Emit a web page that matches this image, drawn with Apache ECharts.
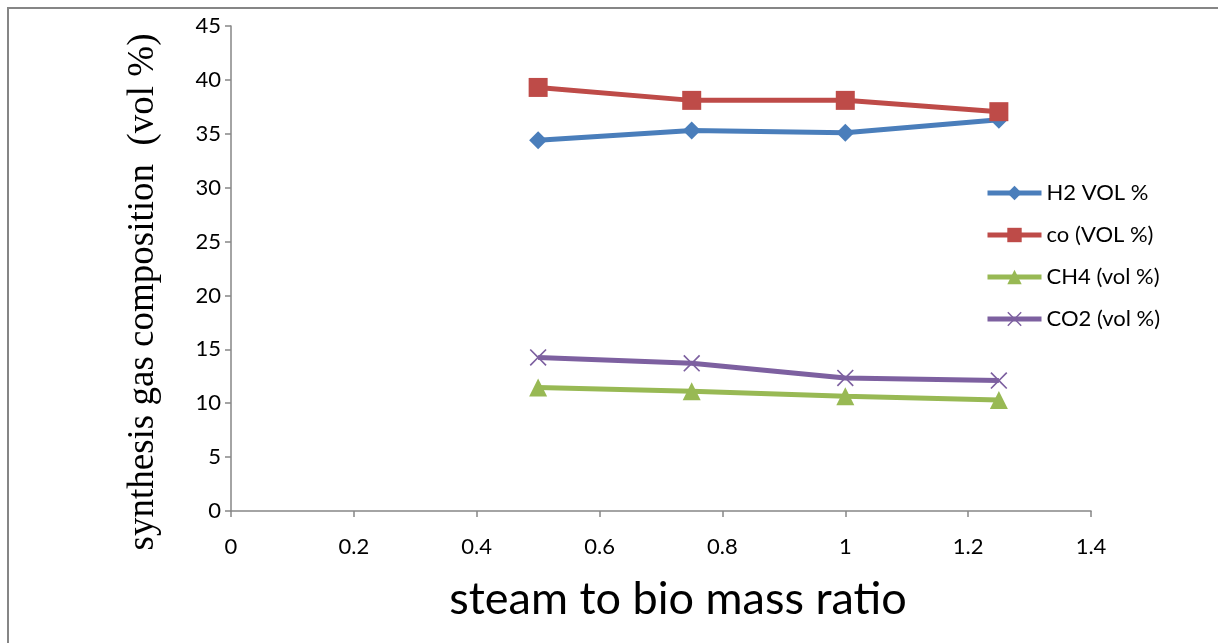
<!DOCTYPE html>
<html>
<head>
<meta charset="utf-8">
<script src="https://cdn.jsdelivr.net/npm/echarts@6/dist/echarts.min.js"></script>
<style>
    html, body { margin: 0; padding: 0; background: #fff; }
    #chart { width: 1218px; height: 643px; }
</style>
</head>
<body>
<div id="chart"></div>
<script type="text/javascript">
    // 数据
    var ratio = [0.5, 0.75, 1, 1.25];
    var h2 = [34.4, 35.3, 35.1, 36.3];
    var co = [39.3, 38.1, 38.1, 37.05];
    var ch4 = [11.45, 11.1, 10.65, 10.3];
    var co2 = [14.25, 13.7, 12.35, 12.1];
    var seriesNames = ['H2 VOL %', 'co (VOL %)', 'CH4 (vol %)', 'CO2 (vol %)'];

    function pairs(ys) {
        var out = [];
        for (var i = 0; i < ratio.length; i++) {
            out.push([ratio[i], ys[i]]);
        }
        return out;
    }

    var crossPath = 'path://M0,1.4L1.4,0L10,8.6L18.6,0L20,1.4L11.4,10L20,18.6L18.6,20L10,11.4L1.4,20L0,18.6L8.6,10Z';

    function mkSeries(name, data, color, symbol, size) {
        return {
            name: name,
            type: 'line',
            data: pairs(data),
            symbol: symbol,
            symbolSize: size,
            showAllSymbol: true,
            lineStyle: { color: color, width: 5 },
            itemStyle: { color: color },
            emphasis: { disabled: true },
            z: 3
        };
    }

    var chart = echarts.init(document.getElementById('chart'));
    var option = {
        animation: false,
        backgroundColor: '#ffffff',
        grid: { left: 231, top: 26, right: 127, bottom: 132 },
        legend: {
            orient: 'vertical',
            left: 980,
            top: 177,
            padding: 5,
            itemWidth: 54,
            itemHeight: 18,
            itemGap: 20,
            lineStyle: { width: 5 },
            textStyle: { fontFamily: 'Lato', fontSize: 22, color: '#000' },
            data: seriesNames
        },
        xAxis: {
            type: 'value',
            min: 0,
            max: 1.4,
            interval: 0.2,
            splitLine: { show: false },
            axisLine: { lineStyle: { color: '#868686', width: 1.5 } },
            axisTick: { show: true, length: 6, lineStyle: { color: '#868686', width: 1.5 } },
            axisLabel: {
                margin: 25,
                fontFamily: 'Lato',
                fontSize: 22,
                color: '#000',
                formatter: function (v) { return String(Math.round(v * 10) / 10); }
            }
        },
        yAxis: {
            type: 'value',
            min: 0,
            max: 45,
            interval: 5,
            splitLine: { show: false },
            axisLine: { show: true, lineStyle: { color: '#868686', width: 1.5 } },
            axisTick: { show: true, length: 6, lineStyle: { color: '#868686', width: 1.5 } },
            axisLabel: { margin: 10, fontFamily: 'Lato', fontSize: 22, color: '#000' }
        },
        graphic: [
            {
                type: 'rect',
                shape: { x: 8, y: 8, width: 1400, height: 900 },
                style: { fill: 'none', stroke: '#868686', lineWidth: 2 },
                silent: true,
                z: -10
            },
            {
                type: 'text',
                x: 143,
                y: 292,
                rotation: Math.PI / 2,
                style: {
                    text: 'synthesis gas composition  (vol %)',
                    fontFamily: 'Liberation Serif',
                    fontSize: 37,
                    fill: '#000',
                    textAlign: 'center',
                    textVerticalAlign: 'middle'
                }
            },
            {
                type: 'text',
                x: 678,
                y: 599,
                style: {
                    text: 'steam to bio mass ratio',
                    fontFamily: 'Lato',
                    fontSize: 45,
                    fill: '#000',
                    textAlign: 'center',
                    textVerticalAlign: 'middle'
                }
            }
        ],
        series: [
            mkSeries(seriesNames[0], h2, '#4A7EBB', 'diamond', 18),
            mkSeries(seriesNames[1], co, '#BE4B48', 'rect', 19),
            mkSeries(seriesNames[2], ch4, '#98B954', 'triangle', 18),
            mkSeries(seriesNames[3], co2, '#7D60A0', crossPath, 17)
        ]
    };
    chart.setOption(option);
</script>
</body>
</html>
